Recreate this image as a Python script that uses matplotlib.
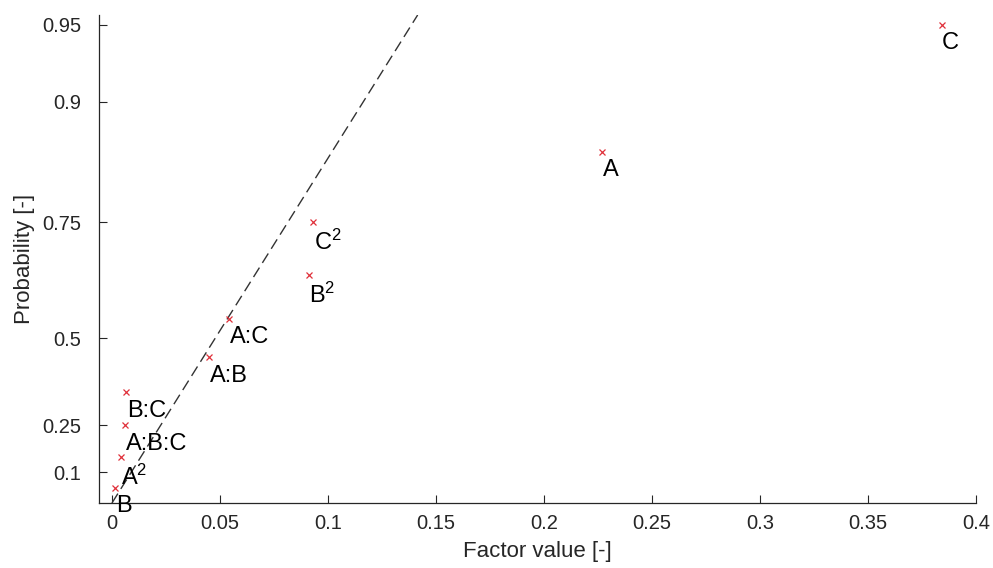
import numpy as np
import matplotlib.pyplot as plt
from statistics import NormalDist

# half-normal probability plot of factor effects
labels = ['B', 'A$^2$', 'A:B:C', 'B:C', 'A:B', 'A:C', 'B$^2$', 'C$^2$', 'A', 'C']
effects = [0.0014, 0.0040, 0.0060, 0.0065, 0.0449, 0.0543, 0.0910, 0.0932, 0.2269, 0.3840]
probs = [(i - 0.5) / len(effects) for i in range(1, len(effects) + 1)]

# reference line (through origin)
line_x = [0.0, 0.1415]
line_p = [0.0, 0.9545]

yticks = [0.1, 0.25, 0.5, 0.75, 0.9, 0.95]
xticks = [0, 0.05, 0.1, 0.15, 0.2, 0.25, 0.3, 0.35, 0.4]

plt.rcParams['font.family'] = ['Liberation Sans', 'DejaVu Sans']
plt.rcParams['mathtext.fontset'] = 'custom'
plt.rcParams['mathtext.rm'] = 'Liberation Sans'
plt.rcParams['mathtext.it'] = 'Liberation Sans'

nd = NormalDist()
_fwd = np.vectorize(lambda p: nd.inv_cdf((1 + min(max(p, -1 + 1e-12), 1 - 1e-12)) / 2),
                    otypes=[float])
_inv = np.vectorize(lambda z: 2 * nd.cdf(z) - 1, otypes=[float])


def forward(p):
    return _fwd(np.asarray(p, dtype=float))


def inverse(z):
    return _inv(np.asarray(z, dtype=float))


axcol = '#262626'
fig = plt.figure(figsize=(9.93, 5.68), dpi=100)
ax = fig.add_axes([0.0997, 0.1144, 0.8833, 0.8592])
ax.set_yscale('function', functions=(forward, inverse))

ax.plot(line_x, line_p, color='#333333', lw=1.0, dashes=(8, 4))
ax.plot(effects, probs, 'x', color='#e0303a', ms=5, mew=0.9)
for x, p, lab in zip(effects, probs, labels):
    ax.annotate(lab, (x, p), xytext=(0.5, -5.5), textcoords='offset points',
                ha='left', va='top', fontsize=17, color='black')

ax.set_xlim(-0.006, 0.4)
ax.set_ylim(0.0, 0.9545)
ax.set_xticks(xticks)
ax.set_xticklabels(['%g' % t for t in xticks])
ax.set_yticks(yticks)
ax.set_yticklabels(['%g' % t for t in yticks])
ax.minorticks_off()

for s in ['top', 'right']:
    ax.spines[s].set_visible(False)
for s in ['left', 'bottom']:
    ax.spines[s].set_color(axcol)
    ax.spines[s].set_linewidth(0.9)
ax.tick_params(direction='in', length=6, width=0.8, color=axcol,
               labelcolor=axcol, labelsize=14.5)
ax.tick_params(axis='y', pad=13)
ax.tick_params(axis='x', pad=8)

ax.set_xlabel('Factor value [-]', fontsize=16, color=axcol, labelpad=6)
ax.set_ylabel('Probability [-]', fontsize=16, color=axcol, labelpad=5)

fig.savefig('out.png', dpi=100)
